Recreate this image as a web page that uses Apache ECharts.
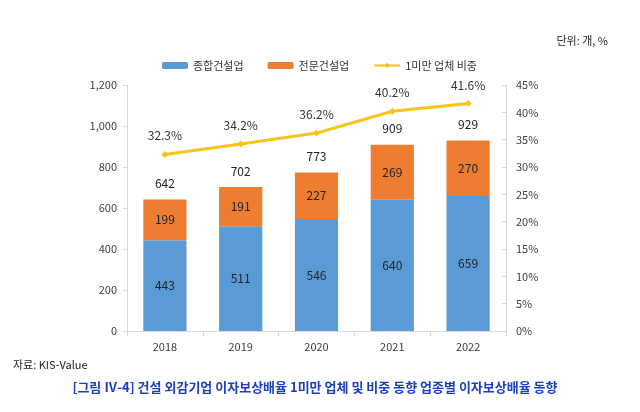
<!DOCTYPE html>
<html>
<head>
<meta charset="utf-8">
<script src="https://cdn.jsdelivr.net/npm/echarts@6/dist/echarts.min.js"></script>
<style>
    html, body { margin: 0; padding: 0; background: #fff; }
    #chart { width: 640px; height: 412px; }
</style>
</head>
<body>
<div id="chart"></div>
<script>
// Data
var years = ['2018', '2019', '2020', '2021', '2022'];
var general = [443, 511, 546, 640, 659];      // 종합건설업
var special = [199, 191, 227, 269, 270];      // 전문건설업
var totals = [642, 702, 773, 909, 929];
var shareUnder1 = [32.3, 34.2, 36.2, 40.2, 41.6]; // 1미만 업체 비중 (%)

var FONT = '"Noto Sans CJK KR", "Noto Sans", sans-serif';

var chart = echarts.init(document.getElementById('chart'));

chart.setOption({
    animation: false,
    textStyle: { fontFamily: FONT },

    title: [
        {
            text: '단위: 개, %',
            right: 27,
            top: 30,
            textStyle: { fontSize: 11, fontWeight: 'normal', color: '#222', fontFamily: FONT }
        },
        {
            text: '자료: KIS-Value',
            left: 8,
            top: 354,
            textStyle: { fontSize: 11, fontWeight: 'normal', color: '#222', fontFamily: FONT }
        },
        {
            text: '[그림 Ⅳ-4] 건설 외감기업 이자보상배율 1미만 업체 및 비중 동향 업종별 이자보상배율 동향',
            left: 310,
            textAlign: 'center',
            top: 376,
            textStyle: { fontSize: 13, fontWeight: 'bold', color: '#1d3fbf', fontFamily: FONT }
        }
    ],

    legend: {
        data: ['종합건설업', '전문건설업', '1미만 업체 비중'],
        top: 55,
        left: 157,
        itemWidth: 26,
        itemHeight: 7,
        itemGap: 24,
        textStyle: { fontSize: 11, color: '#333', fontFamily: FONT }
    },

    grid: {
        left: 127,
        right: 134,
        top: 85,
        bottom: 81
    },

    xAxis: {
        type: 'category',
        data: years,
        axisLine: { lineStyle: { color: '#d9d9d9' } },
        axisTick: { show: true, lineStyle: { color: '#d9d9d9' } },
        axisLabel: { color: '#404040', fontSize: 11, margin: 10 }
    },

    yAxis: [
        {
            type: 'value',
            min: 0,
            max: 1200,
            interval: 200,
            axisLine: { show: true, lineStyle: { color: '#d9d9d9' } },
            axisTick: { show: true, length: 4, lineStyle: { color: '#d9d9d9' } },
            splitLine: { show: false },
            axisLabel: {
                color: '#404040',
                fontSize: 11,
                margin: 10,
                formatter: function(v) { return v.toLocaleString('en-US'); }
            }
        },
        {
            type: 'value',
            min: 0,
            max: 45,
            interval: 5,
            position: 'right',
            axisLine: { show: true, lineStyle: { color: '#d9d9d9' } },
            axisTick: { show: true, inside: true, length: 4, lineStyle: { color: '#d9d9d9' } },
            splitLine: { show: false },
            axisLabel: { color: '#404040', fontSize: 11, margin: 10, formatter: '{value}%' }
        }
    ],

    series: [
        {
            name: '종합건설업',
            type: 'bar',
            stack: 'total',
            data: general,
            barWidth: '57%',
            itemStyle: { color: '#5b9bd5' },
            label: { show: true, position: 'inside', color: '#222', fontSize: 12 }
        },
        {
            name: '전문건설업',
            type: 'bar',
            stack: 'total',
            data: special,
            barWidth: '57%',
            itemStyle: { color: '#ed7d31' },
            label: { show: true, position: 'inside', color: '#222', fontSize: 12 }
        },
        {
            // total labels above the stacks
            name: '합계',
            type: 'scatter',
            data: totals,
            symbolSize: 0,
            silent: true,
            itemStyle: { opacity: 1 },
            label: { show: true, position: 'top', distance: 10, color: '#222', fontSize: 12 }
        },
        {
            name: '1미만 업체 비중',
            type: 'line',
            yAxisIndex: 1,
            data: shareUnder1,
            symbol: 'diamond',
            symbolSize: 7,
            lineStyle: { color: '#f9c31b', width: 3 },
            itemStyle: { color: '#f9c31b' },
            label: {
                show: true,
                position: 'top',
                distance: 9,
                color: '#333',
                fontSize: 12,
                formatter: '{c}%'
            }
        }
    ]
});
</script>
</body>
</html>
